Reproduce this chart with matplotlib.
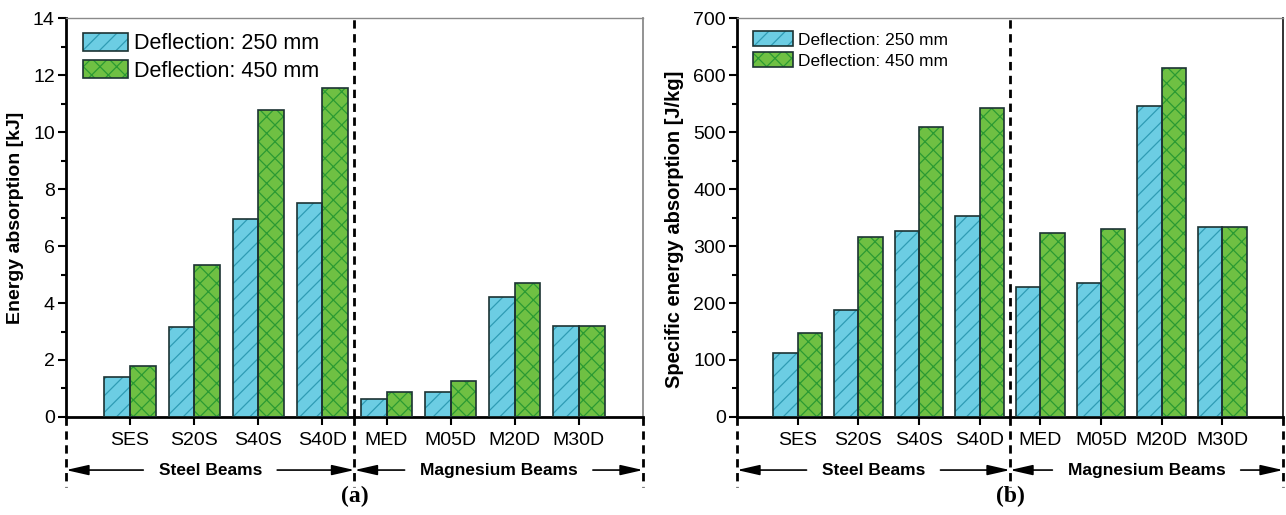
import matplotlib
matplotlib.use("Agg")
import matplotlib.pyplot as plt
import numpy as np
from matplotlib.patches import Patch
from matplotlib.legend_handler import HandlerTuple
from matplotlib.ticker import AutoMinorLocator, MultipleLocator

categories = ["SES", "S20S", "S40S", "S40D", "MED", "M05D", "M20D", "M30D"]
series_names = ["Deflection: 250 mm", "Deflection: 450 mm"]
energy_250 = [1.40, 3.15, 6.95, 7.50, 0.62, 0.88, 4.22, 3.20]
energy_450 = [1.80, 5.32, 10.78, 11.53, 0.88, 1.25, 4.70, 3.20]
sea_250 = [113, 187, 327, 353, 228, 235, 546, 333]
sea_450 = [147, 315, 508, 543, 322, 330, 612, 333]
group_names = ["Steel Beams", "Magnesium Beams"]

plt.rcParams["font.family"] = ["Liberation Sans", "DejaVu Sans"]
plt.rcParams["hatch.linewidth"] = 0.9

BLUE = "#6ccde3"
BLUE_H = "#2f9cb4"
GREEN = "#6fc043"
GREEN_H = "#2b9a33"
EDGE = "#1c3333"

fig = plt.figure(figsize=(12.86, 5.15), dpi=100)
ax1 = fig.add_axes([0.0513, 0.1903, 0.4487, 0.7747])
ax2 = fig.add_axes([0.5731, 0.1903, 0.4246, 0.7747])

x = np.arange(1, len(categories) + 1)
w = 0.4


def draw(ax, v1, v2, ymax, ystep, ylabel, ylfs, ylx, yly, tag, leg_fs, hl, hh, leg_anchor, right_col):
    for vals, off, fc, hc, hatch in [(v1, -w / 2, BLUE, BLUE_H, "//"),
                                     (v2, w / 2, GREEN, GREEN_H, "xx")]:
        ax.bar(x + off, vals, w, color=fc, edgecolor=hc, hatch=hatch, linewidth=0, zorder=2)
        ax.bar(x + off, vals, w, fill=False, edgecolor=EDGE, linewidth=1.2, zorder=3)
    ax.set_xlim(0, 9)
    ax.set_ylim(0, ymax)
    ax.set_xticks(x)
    ax.set_xticklabels(categories, fontsize=14)
    ax.yaxis.set_major_locator(MultipleLocator(ystep))
    ax.yaxis.set_minor_locator(AutoMinorLocator(2))
    ax.tick_params(axis="y", which="major", direction="out", length=6, width=1.5, labelsize=14, pad=2)
    ax.tick_params(axis="y", which="minor", direction="out", length=3.5, width=1.5)
    ax.tick_params(axis="x", which="major", direction="out", length=6, width=1.5, pad=5)
    for s in ["left", "bottom"]:
        ax.spines[s].set_linewidth(2)
        ax.spines[s].set_color("black")
    ax.spines["top"].set_linewidth(1)
    ax.spines["top"].set_color("#8a8a8a")
    ax.spines["right"].set_linewidth(1.3)
    ax.spines["right"].set_color(right_col)
    ax.set_ylabel(ylabel, fontsize=ylfs, fontweight="bold")
    ax.yaxis.label.set_va("center")
    ax.yaxis.set_label_coords(ylx, yly)

    # divider
    ax.axvline(4.5, color="black", lw=2, ls=(0, (3, 2)), zorder=4)
    for xv in [0, 4.5, 9]:
        ax.plot([xv, xv], [0, -0.175], transform=ax.get_xaxis_transform(), color="black",
                lw=2, ls=(0, (3, 2)), clip_on=False, zorder=4)

    # group labels with arrows
    arrow_y = -0.133
    centers = [2.25, 6.75]
    bounds = [(0, 4.5), (4.5, 9)]
    ap = dict(arrowstyle="-|>,head_length=1.1,head_width=0.25", color="black", lw=1.2,
              shrinkA=9, shrinkB=0)
    for name, c, (lo, hi) in zip(group_names, centers, bounds):
        ax.annotate(name, xy=(lo, arrow_y), xytext=(c, arrow_y),
                    xycoords=("data", "axes fraction"), textcoords=("data", "axes fraction"),
                    ha="center", va="center", fontsize=12.5, fontweight="bold",
                    arrowprops=ap, annotation_clip=False)
        ax.annotate(name, xy=(hi, arrow_y), xytext=(c, arrow_y),
                    xycoords=("data", "axes fraction"), textcoords=("data", "axes fraction"),
                    ha="center", va="center", fontsize=12.5, fontweight="bold", color="none",
                    arrowprops=ap, annotation_clip=False)
    ax.text(4.5, -0.2, tag, transform=ax.get_xaxis_transform(), ha="center", va="center",
            fontsize=17, fontweight="bold", family=["Liberation Serif", "DejaVu Serif"])

    h1 = (Patch(facecolor=BLUE, edgecolor=BLUE_H, hatch="//", lw=0),
          Patch(facecolor="none", edgecolor=EDGE, lw=1.2))
    h2 = (Patch(facecolor=GREEN, edgecolor=GREEN_H, hatch="xx", lw=0),
          Patch(facecolor="none", edgecolor=EDGE, lw=1.2))
    ax.legend([h1, h2], series_names, handler_map={tuple: HandlerTuple(ndivide=1)},
              loc="upper left", bbox_to_anchor=leg_anchor, frameon=False, fontsize=leg_fs,
              handlelength=hl, handleheight=hh, handletextpad=0.3, labelspacing=0.25,
              borderaxespad=0, borderpad=0)


draw(ax1, energy_250, energy_450, 14, 2, "Energy absorption [kJ]", 14, -0.0867, 0.5, "(a)",
     15.5, 2.1, 0.95, (0.029, 0.963), "#8a8a8a")
draw(ax2, sea_250, sea_450, 700, 100, "Specific energy absorption [J/kg]", 14.5, -0.1136, 0.47, "(b)",
     12.5, 2.3, 1.0, (0.029, 0.968), "#222222")

fig.savefig("out.png", dpi=100)
